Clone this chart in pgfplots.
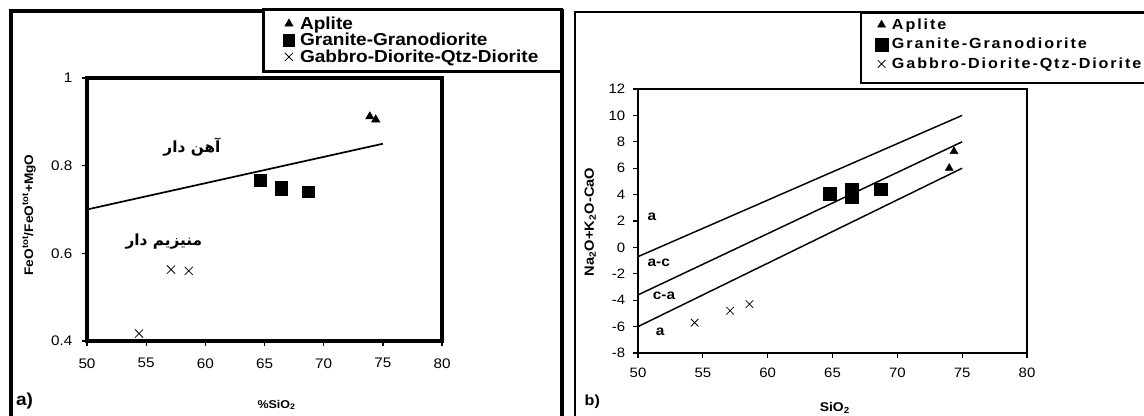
\documentclass[border=0pt]{standalone}
\usepackage{pgfplots}
\pgfplotsset{compat=1.18}
\usepackage{fontspec}
\setmainfont{Liberation Sans}[FakeStretch=1.1]
\newfontfamily\arabicfont[Script=Arabic]{DejaVu Sans}
\newfontfamily\spaced[LetterSpace=13,FakeStretch=1.1]{Liberation Sans}
\TeXXeTstate=1
\begin{document}
\begin{tikzpicture}
\useasboundingbox (0,0) rectangle (858pt,312pt);
\fill[white] (0,0) rectangle (858pt,312pt);
% outer frames
\draw[line width=2.5pt] (8.25pt,-10pt) rectangle (421.5pt,303.75pt);
\draw[line width=1.5pt] (431.25pt,-10pt) rectangle (870pt,303pt);
% legend frames
\draw[line width=2.25pt, fill=white] (197.25pt,258pt) rectangle (420.75pt,304.5pt);
\draw[line width=1.5pt, fill=white] (645.75pt,249.75pt) rectangle (870pt,302.25pt);
\node[anchor=west, font=\fontsize{13}{14}\selectfont\bfseries] at (8.5pt,11.25pt) {a)};
\node[anchor=west, font=\fontsize{11}{12}\selectfont\bfseries] at (435pt,10.5pt) {b)};

\begin{axis}[
  at={(65.25pt,56.25pt)}, anchor=south west,
  scale only axis, width=266.25pt, height=197.25pt,
  xmin=50, xmax=80, ymin=0.4, ymax=1,
  xtick={50,55,...,80}, ytick={0.4,0.6,0.8,1},
  tick pos=left, tick align=outside, major tick length=3.5pt,
  axis line style={line width=2.5pt},
  major tick style={black, line width=1pt},
  /pgf/number format/assume math mode=true,
  tick label style={font=\fontsize{10.4}{11}\selectfont},
  xticklabel style={yshift=-6pt},
  yticklabel style={xshift=-4pt},
  clip=false,
  xlabel={\bfseries\%SiO\textsubscript{2}},
  xlabel style={at={(axis description cs:0.534,-0.243)}, anchor=center, font=\fontsize{8.5}{10}\selectfont},
  ylabel={\bfseries FeO\textsuperscript{tot}/FeO\textsuperscript{tot}+MgO},
  ylabel style={at={(axis description cs:-0.163,0.479)}, anchor=center, font=\fontsize{9.3}{10}\selectfont},
  legend style={draw=none, fill=none, at={(axis description cs:0.552,1.245)}, anchor=north west,
    font=\fontsize{13}{14}\selectfont\bfseries, row sep=-2.5pt, inner sep=0pt,
    /tikz/every odd column/.append style={column sep=2pt}},
  legend cell align=left,
  legend image code/.code={\draw[#1] plot coordinates {(0pt,0pt)};},
]
\addplot[only marks, mark=triangle*, mark size=3.6pt, black] coordinates {(73.9,0.912) (74.4,0.905)};
\addlegendentry{Aplite}
\addplot[only marks, mark=square*, mark size=4.3pt, black] coordinates {(64.66,0.767) (66.4,0.745) (66.4,0.752) (68.7,0.741)};
\addlegendentry{Granite-Granodiorite}
\addplot[only marks, mark=x, mark size=4.3pt, black, line width=0.6pt] coordinates {(54.4,0.417) (57.1,0.563) (58.6,0.560)};
\addlegendentry{Gabbro-Diorite-Qtz-Diorite}
\addplot[black, line width=1.3pt, forget plot] coordinates {(50,0.7) (75,0.85)};
\node[font=\fontsize{11.5}{12}\selectfont\arabicfont\bfseries] at (axis cs:58.87,0.843) {\beginR آهن دار\endR};
\node[font=\fontsize{11.5}{12}\selectfont\arabicfont\bfseries] at (axis cs:56.5,0.626) {\beginR منیزیم دار\endR};
\end{axis}

\begin{axis}[
  at={(478.5pt,47.25pt)}, anchor=south west,
  scale only axis, width=291.75pt, height=198pt,
  xmin=50, xmax=80, ymin=-8, ymax=12,
  xtick={50,55,...,80}, ytick={-8,-6,...,12},
  tick pos=left, tick align=outside, major tick length=3.5pt,
  axis line style={line width=1.7pt},
  major tick style={black, line width=0.8pt},
  /pgf/number format/assume math mode=true,
  tick label style={font=\fontsize{10.2}{12}\selectfont},
  xticklabel style={yshift=-4.5pt},
  yticklabel style={xshift=-2.5pt},
  clip=false,
  xlabel={\bfseries SiO\textsubscript{2}},
  xlabel style={at={(axis description cs:0.506,-0.208)}, anchor=center, font=\fontsize{9.5}{10}\selectfont},
  ylabel={\bfseries Na\textsubscript{2}O+K\textsubscript{2}O-CaO},
  ylabel style={at={(axis description cs:-0.123,0.496)}, anchor=center, font=\fontsize{10}{10}\selectfont},
  legend style={draw=none, fill=none, at={(axis description cs:0.609,1.278)}, anchor=north west,
    font=\fontsize{11}{12}\selectfont\spaced\bfseries, row sep=1.2pt, inner sep=0pt,
    /tikz/every odd column/.append style={column sep=1pt}},
  legend cell align=left,
  legend image code/.code={\draw[#1] plot coordinates {(0pt,0pt)};},
]
\addplot[only marks, mark=triangle*, mark size=3.4pt, black] coordinates {(74.0,6.0) (74.37,7.27)};
\addlegendentry{Aplite}
\addplot[only marks, mark=square*, mark size=4.8pt, black] coordinates {(64.76,4.05) (66.5,3.85) (66.5,4.4) (68.73,4.4)};
\addlegendentry{Granite-Granodiorite}
\addplot[only marks, mark=x, mark size=4pt, black, line width=0.6pt] coordinates {(54.37,-5.7) (57.1,-4.8) (58.6,-4.3)};
\addlegendentry{Gabbro-Diorite-Qtz-Diorite}
\addplot[black, line width=1.1pt, forget plot] coordinates {(50,-0.7) (75,10)};
\addplot[black, line width=1.1pt, forget plot] coordinates {(50,-3.6) (75,8)};
\addplot[black, line width=1.1pt, forget plot] coordinates {(50,-6) (75,6)};
\node[font=\fontsize{10.5}{11}\selectfont\bfseries] at (axis cs:51.08,2.3) {a};
\node[font=\fontsize{10.5}{11}\selectfont\bfseries] at (axis cs:51.6,-1.18) {a-c};
\node[font=\fontsize{10.5}{11}\selectfont\bfseries] at (axis cs:52.0,-3.68) {c-a};
\node[font=\fontsize{10.5}{11}\selectfont\bfseries] at (axis cs:51.7,-6.4) {a};
\end{axis}
\end{tikzpicture}
\end{document}
